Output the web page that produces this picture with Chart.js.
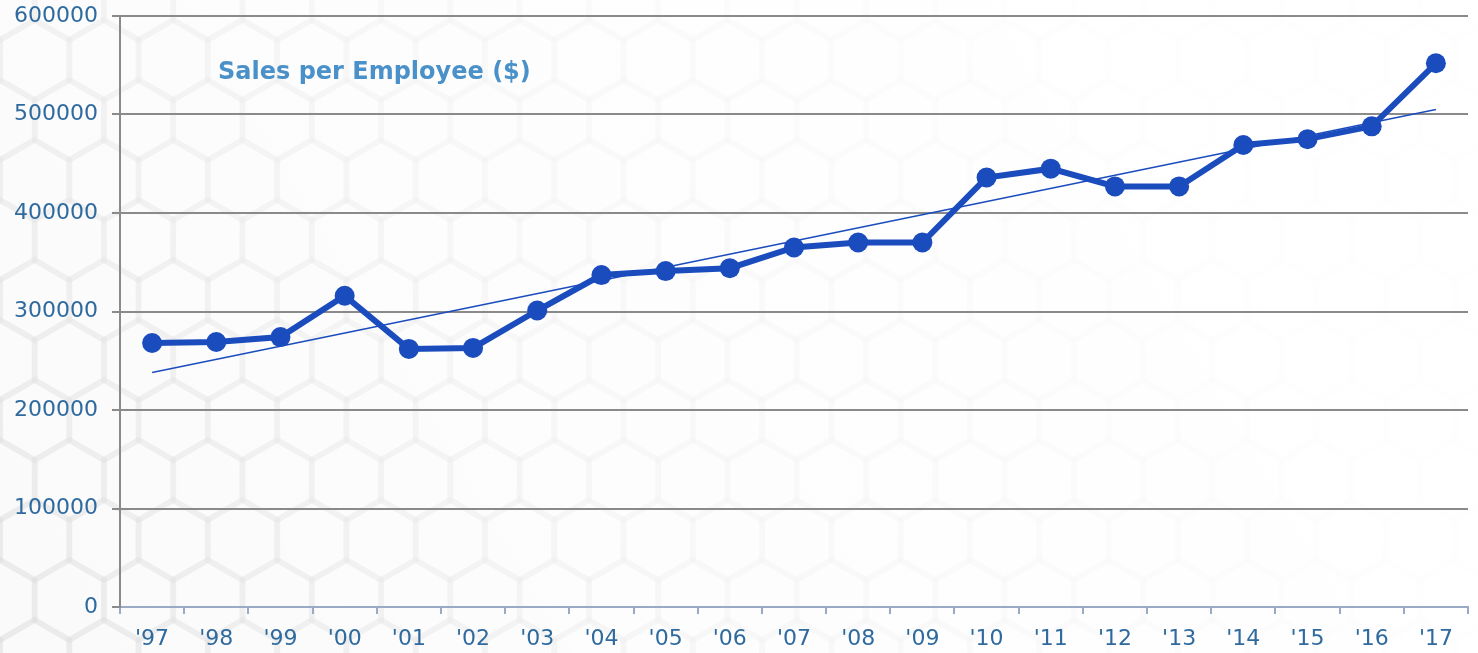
<!DOCTYPE html>
<html>
<head>
<meta charset="utf-8">
<script src="https://cdn.jsdelivr.net/npm/chart.js@4/dist/chart.umd.min.js"></script>
<style>
  html, body { margin: 0; padding: 0; background: #fbfbfb; }
  #wrap { width: 1478px; height: 653px; position: relative; }
</style>
</head>
<body>
<div id="wrap"><canvas id="myChart" width="1478" height="653"></canvas></div>
<script>
const years = ["'97", "'98", "'99", "'00", "'01", "'02", "'03", "'04", "'05", "'06", "'07",
  "'08", "'09", "'10", "'11", "'12", "'13", "'14", "'15", "'16", "'17"];

const salesPerEmployee = [268000, 269000, 274000, 316000, 262000, 263000, 301000, 337000,
  341000, 344000, 365000, 370000, 370000, 436000, 445000, 427000, 427000, 469000, 475000,
  488000, 552000];

// trend line: start and end only
const trendValues = [238000, null, null, null, null, null, null, null, null, null, null,
  null, null, null, null, null, null, null, null, null, 505000];

const yTicks = [0, 100000, 200000, 300000, 400000, 500000, 600000];

const chartTitle = "Sales per Employee ($)";

const hexBackground = {
  id: "hexBackground",
  beforeDraw(chart) {
    const ctx = chart.ctx;
    const w = chart.width, h = chart.height;
    ctx.save();
    ctx.fillStyle = "#fafafa";
    ctx.fillRect(0, 0, w, h);
    const r = 40;
    const dx = r * Math.sqrt(3);
    const dy = r * 1.5;
    ctx.strokeStyle = "rgba(0,0,0,0.03)";
    ctx.lineWidth = 6;
    for (let row = -1; row * dy < h + r; row++) {
      for (let col = -1; col * dx < w + dx; col++) {
        const cx = col * dx + (row % 2 ? dx / 2 : 0);
        const cy = row * dy;
        ctx.beginPath();
        for (let k = 0; k < 6; k++) {
          const a = Math.PI / 6 + k * Math.PI / 3;
          const px = cx + r * Math.cos(a);
          const py = cy + r * Math.sin(a);
          if (k === 0) ctx.moveTo(px, py); else ctx.lineTo(px, py);
        }
        ctx.closePath();
        ctx.stroke();
      }
    }
    const g = ctx.createLinearGradient(0, h, w * 0.75, 0);
    g.addColorStop(0, "rgba(255,255,255,0)");
    g.addColorStop(0.5, "rgba(255,255,255,0.65)");
    g.addColorStop(1, "rgba(255,255,255,0.95)");
    ctx.fillStyle = g;
    ctx.fillRect(0, 0, w, h);
    ctx.restore();
  },
};

const innerTitle = {
  id: "innerTitle",
  afterDatasetsDraw(chart) {
    const ctx = chart.ctx;
    ctx.save();
    ctx.font = "bold 24px 'DejaVu Sans', sans-serif";
    ctx.fillStyle = "#4b91c9";
    ctx.textBaseline = "middle";
    ctx.fillText(chartTitle, 218, 73);
    ctx.restore();
  },
};

const tickFont = { family: "'DejaVu Sans', sans-serif", size: 22 };

const config = {
  type: "line",
  data: {
    labels: years,
    datasets: [
      {
        label: "Trend",
        data: trendValues,
        borderColor: "#1b4cbe",
        borderWidth: 1.5,
        pointRadius: 0,
        spanGaps: true,
        order: 2,
      },
      {
        label: chartTitle,
        data: salesPerEmployee,
        borderColor: "#1b4cbe",
        backgroundColor: "#1b4cbe",
        borderWidth: 6,
        pointRadius: 10,
        pointBorderWidth: 0,
        tension: 0,
        order: 1,
      },
    ],
  },
  options: {
    responsive: false,
    animation: false,
    layout: { padding: { top: 16, right: 3, left: 0, bottom: 0 } },
    plugins: {
      legend: { display: false },
      tooltip: { enabled: false },
    },
    scales: {
      x: {
        offset: true,
        grid: {
          offset: true,
          drawOnChartArea: false,
          drawTicks: true,
          tickLength: 7,
          color: "#9aaac4",
          lineWidth: 2,
        },
        border: { color: "#9aaac4", width: 2 },
        ticks: {
          color: "#2f6a9f",
          font: tickFont,
          padding: 12,
          maxRotation: 0,
          autoSkip: false,
        },
        afterFit: (scale) => {
          scale.height = 46;
        },
      },
      y: {
        min: 0,
        max: 600000,
        afterBuildTicks: (scale) => {
          scale.ticks = yTicks.map((v) => ({ value: v }));
        },
        grid: {
          color: "#8a8a8a",
          lineWidth: 2,
          tickLength: 8,
        },
        border: { color: "#8a8a8a", width: 2 },
        ticks: {
          color: "#2f6a9f",
          font: tickFont,
          padding: 14,
          callback: (v) => String(v),
        },
        afterFit: (scale) => {
          scale.width = 120;
          scale.paddingTop = 0;
          scale.paddingBottom = 0;
        },
      },
    },
  },
  plugins: [hexBackground, innerTitle],
};

const ctx = document.getElementById("myChart").getContext("2d");
const myChart = new Chart(ctx, config);
</script>
</body>
</html>
